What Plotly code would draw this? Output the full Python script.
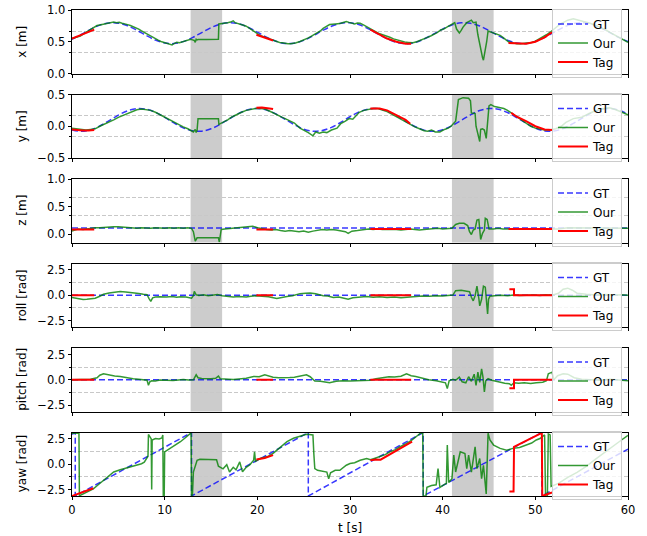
import plotly.graph_objects as go
from plotly.subplots import make_subplots

# ---------------- data ----------------
T_GT = list(range(61))
GT_X = [0.540, 0.616, 0.696, 0.762, 0.797, 0.793, 0.751, 0.681, 0.599, 0.527,
        0.481, 0.471, 0.502, 0.565, 0.644, 0.722, 0.778, 0.800, 0.782, 0.728,
        0.652, 0.572, 0.507, 0.473, 0.478, 0.521, 0.592, 0.673, 0.745, 0.790,
        0.798, 0.767, 0.703, 0.623, 0.547, 0.491, 0.470, 0.489, 0.543, 0.620,
        0.700, 0.765, 0.798, 0.791, 0.748, 0.676, 0.595, 0.524, 0.479, 0.472,
        0.505, 0.569, 0.649, 0.725, 0.780, 0.800, 0.780, 0.725, 0.648, 0.568,
        0.504]
GT_Y = [-0.059, -0.080, -0.057, 0.004, 0.088, 0.175, 0.244, 0.278, 0.269, 0.219,
        0.141, 0.052, -0.025, -0.072, -0.077, -0.040, 0.031, 0.119, 0.202, 0.260,
        0.280, 0.256, 0.194, 0.110, 0.023, -0.045, -0.078, -0.068, -0.018, 0.061,
        0.150, 0.226, 0.272, 0.276, 0.238, 0.166, 0.078, -0.004, -0.061, -0.080,
        -0.055, 0.008, 0.092, 0.179, 0.247, 0.279, 0.267, 0.216, 0.136, 0.048,
        -0.028, -0.073, -0.076, -0.036, 0.036, 0.124, 0.206, 0.263, 0.280, 0.254,
        0.190]
T_GT_CONST = [0, 60]
GT_Z = [0.115, 0.115]
GT_ROLL = [0.0, 0.0]
GT_PITCH = [0.0, 0.0]
T_GT_YAW = [0, 0.35, 0.35, 12.9, 12.9, 25.5, 25.5, 37.9, 37.9, 50.7, 50.7, 60]
GT_YAW = [2.97, 3.14, -3.14, 3.14, -3.14, 3.14, -3.14, 3.14, -3.14, 3.14, -3.14, 1.5]

OUR_X = [(0.0,0.55),(0.3,0.56),(0.6,0.575),(0.9,0.59),(1.2,0.62),(1.5,0.645),(1.8,0.67),(2.1,0.70),
         (2.4,0.72),(2.7,0.755),(3.0,0.765),(3.3,0.775),(3.6,0.785),(3.9,0.79),(4.2,0.80),(4.5,0.81),
         (4.8,0.80),(5.1,0.805),(5.4,0.79),(5.7,0.785),(6.0,0.77),(6.3,0.755),(6.6,0.74),(6.9,0.725),
         (7.2,0.70),(7.5,0.67),(7.8,0.645),(8.1,0.62),(8.4,0.595),(8.7,0.565),(9.0,0.545),(9.3,0.525),
         (9.6,0.505),(9.9,0.49),(10.2,0.48),(10.5,0.465),(10.8,0.45),(11.0,0.47),(11.3,0.49),(11.6,0.485),
         (11.9,0.50),(12.2,0.51),(12.5,0.52),(12.8,0.54),(13.0,0.53),(13.2,0.52),(13.3,0.49),(13.4,0.54),
         (13.5,0.53),(13.6,0.535),(14.5,0.535),(15.8,0.54),(15.85,0.78),(16.2,0.785),(16.5,0.795),
         (16.8,0.80),(17.1,0.81),(17.4,0.83),(17.6,0.80),(17.9,0.79),(18.2,0.775),(18.5,0.76),(18.8,0.745),
         (19.1,0.715),(19.4,0.69),(19.7,0.655),(20.0,0.625),(20.3,0.60),(20.6,0.585),(20.9,0.57),
         (21.2,0.55),(21.5,0.53),(21.8,0.515),(22.1,0.50),(22.4,0.49),(22.7,0.485),(23.0,0.475),
         (23.3,0.47),(23.6,0.47),(23.9,0.475),(24.2,0.485),(24.6,0.505),(24.9,0.52),(25.2,0.535),
         (25.5,0.56),(25.8,0.585),(26.1,0.61),(26.4,0.635),(26.8,0.67),(27.1,0.71),(27.4,0.735),
         (27.8,0.77),(28.1,0.775),(28.4,0.775),(28.7,0.785),(29.0,0.79),(29.3,0.80),(29.6,0.82),
         (29.9,0.805),(30.2,0.79),(30.5,0.78),(30.8,0.795),(31.1,0.79),(31.4,0.77),(31.8,0.735),
         (32.2,0.70),(32.5,0.675),(32.8,0.65),(33.2,0.625),(33.6,0.605),(33.9,0.595),(34.3,0.57),
         (34.7,0.545),(35.1,0.525),(35.5,0.51),(35.9,0.495),(36.3,0.49),(36.8,0.485),(37.2,0.50),
         (37.6,0.52),(37.9,0.54),(38.3,0.565),(38.7,0.59),(39.0,0.61),(39.4,0.645),(39.8,0.685),
         (40.1,0.70),(40.5,0.735),(40.8,0.755),(41.0,0.77),(41.3,0.80),(41.5,0.70),(41.8,0.64),
         (42.0,0.68),(42.2,0.73),(42.6,0.80),(42.9,0.82),(43.1,0.84),(43.3,0.80),(43.5,0.815),
         (43.6,0.81),(43.8,0.61),(44.0,0.45),(44.1,0.36),(44.3,0.25),(44.4,0.21),(44.5,0.28),
         (44.6,0.36),(44.75,0.50),(44.9,0.67),(45.1,0.66),(45.3,0.65),(45.6,0.635),(45.9,0.62),
         (46.2,0.60),(46.5,0.57),(46.8,0.54),(47.1,0.50),(47.4,0.49),(47.7,0.48),(48.0,0.47),
         (48.4,0.47),(48.8,0.475),(49.2,0.48),(49.6,0.49),(50.0,0.51),(50.4,0.54),(50.8,0.57),
         (51.2,0.61),(51.6,0.65),(52.0,0.70),(52.4,0.75),(52.7,0.78),(53.1,0.81),(53.5,0.84),
         (54.1,0.86),(54.5,0.845),(55.0,0.83),(55.5,0.81),(55.9,0.79),(56.4,0.765),(56.8,0.74),
         (57.3,0.71),(57.7,0.68),(58.1,0.645),(58.5,0.61),(58.9,0.575),(59.3,0.545),(59.7,0.515),
         (60.0,0.49)]

OUR_Y = [(0.0,-0.03),(0.5,-0.04),(1.0,-0.05),(1.5,-0.06),(2.0,-0.05),(2.5,-0.04),(3.0,0.0),(3.5,0.03),
         (4.0,0.07),(4.5,0.10),(5.0,0.14),(5.5,0.17),(6.0,0.21),(6.5,0.24),(7.0,0.26),(7.5,0.27),
         (8.0,0.26),(8.5,0.25),(9.0,0.22),(9.5,0.18),(10.0,0.14),(10.5,0.10),(11.0,0.06),(11.5,0.03),
         (12.0,-0.01),(12.5,-0.04),(12.9,-0.07),(13.1,-0.09),(13.3,-0.05),(13.4,-0.10),(13.5,-0.06),
         (13.6,0.12),(14.5,0.12),(15.8,0.12),(15.85,0.03),(16.3,0.06),(16.8,0.10),(17.3,0.15),
         (17.8,0.19),(18.3,0.22),(18.8,0.25),(19.3,0.27),(19.8,0.28),(20.3,0.28),(20.8,0.27),
         (21.3,0.24),(21.8,0.20),(22.2,0.17),(22.7,0.14),(23.0,0.12),(23.5,0.09),(24.0,0.05),
         (24.6,-0.03),(25.0,-0.06),(25.5,-0.10),(26.0,-0.15),(26.3,-0.09),(26.7,-0.11),(27.1,-0.09),
         (27.5,-0.10),(28.0,-0.06),(28.6,-0.03),(29.0,0.04),(29.5,0.08),(29.9,0.12),(30.3,0.11),
         (30.6,0.16),(31.0,0.22),(31.5,0.25),(32.0,0.27),(32.5,0.28),(33.0,0.28),(33.5,0.26),
         (34.0,0.23),(34.5,0.19),(35.0,0.15),(35.5,0.10),(36.0,0.06),(36.5,0.03),(37.0,-0.01),
         (37.5,-0.04),(38.0,-0.07),(38.4,-0.08),(38.8,-0.06),(39.2,-0.09),(39.7,-0.09),(40.2,-0.05),
         (40.6,-0.03),(40.9,0.0),(41.4,0.08),(41.7,0.42),(42.2,0.45),(42.8,0.44),(43.0,0.40),
         (43.1,0.21),(43.5,0.20),(43.6,0.0),(43.8,-0.10),(44.0,-0.24),(44.1,-0.05),(44.3,-0.04),
         (44.5,-0.06),(44.7,-0.19),(45.0,0.32),(45.2,0.34),(45.6,0.31),(46.0,0.30),(46.6,0.28),
         (47.0,0.25),(47.4,0.21),(48.0,0.15),(48.5,0.09),(49.0,0.04),(49.5,0.0),(50.0,-0.03),
         (50.5,-0.05),(51.0,-0.06),(51.6,-0.06),(52.2,-0.04),(52.8,0.0),(53.3,0.06),(54.1,0.12),
         (55.0,0.14),(55.8,0.20),(56.6,0.25),(57.4,0.28),(58.0,0.29),(58.7,0.26),(59.4,0.22),(60.0,0.18)]

OUR_Z = [(0.0,0.06),(0.3,0.08),(0.7,0.10),(1.2,0.09),(1.8,0.11),(2.5,0.12),(3.0,0.12),(3.5,0.13),
         (4.0,0.13),(4.5,0.14),(5.0,0.14),(5.5,0.13),(6.0,0.12),(6.5,0.12),(7.0,0.11),(7.5,0.12),
         (8.0,0.11),(8.5,0.11),(9.0,0.12),(9.5,0.11),(10.0,0.11),(10.5,0.12),(11.0,0.11),(11.5,0.12),
         (12.0,0.11),(12.5,0.12),(12.9,0.11),(13.1,0.05),(13.3,-0.12),(13.5,-0.06),(14.5,-0.06),
         (15.8,-0.06),(15.9,-0.14),(16.1,0.09),(16.5,0.10),(17.0,0.11),(17.5,0.12),(18.0,0.12),
         (18.5,0.14),(19.0,0.14),(19.5,0.15),(20.0,0.12),(20.5,0.10),(21.0,0.09),(21.5,0.08),
         (22.0,0.09),(22.5,0.07),(23.0,0.06),(23.5,0.07),(24.0,0.06),(24.5,0.05),(25.0,0.06),
         (25.5,0.04),(26.0,0.06),(26.5,0.08),(27.0,0.09),(27.5,0.08),(28.0,0.09),(28.5,0.08),
         (29.0,0.06),(29.5,0.05),(29.8,0.02),(30.2,0.06),(30.8,0.07),(31.5,0.09),(32.0,0.10),
         (32.5,0.09),(33.0,0.10),(33.5,0.09),(34.0,0.09),(34.5,0.10),(35.0,0.09),(35.5,0.08),
         (36.0,0.09),(36.5,0.10),(37.0,0.09),(37.5,0.08),(38.0,0.09),(38.5,0.10),(39.0,0.10),
         (39.5,0.11),(40.0,0.10),(40.5,0.11),(41.0,0.11),(41.4,0.18),(41.8,0.20),(42.3,0.20),
         (42.7,0.16),(42.9,0.05),(43.1,0.0),(43.3,0.08),(43.5,0.10),(43.7,0.26),(43.9,0.27),
         (44.1,-0.09),(44.3,0.02),(44.5,0.08),(44.6,0.29),(44.8,0.27),(45.0,0.10),(45.5,0.10),
         (46.0,0.11),(46.5,0.10),(47.0,0.10),(47.5,0.10),(48.0,0.09),(48.5,0.10),(49.0,0.10),
         (49.5,0.09),(50.0,0.10),(50.5,0.10),(51.0,0.09),(51.8,0.10),(52.5,0.10),(53.5,0.12),
         (54.5,0.12),(55.5,0.11),(56.5,0.12),(57.5,0.11),(58.5,0.12),(59.3,0.11),(60.0,0.11)]

OUR_ROLL = [(0.0,-0.23),(0.4,-0.30),(0.8,-0.38),(1.2,-0.42),(1.6,-0.40),(2.0,-0.38),(2.5,-0.30),
            (3.0,-0.10),(3.4,0.10),(4.0,0.22),(4.5,0.30),(5.2,0.36),(5.8,0.32),(6.6,0.26),(7.2,0.18),
            (7.7,0.10),(8.1,0.05),(8.3,-0.30),(8.5,-0.60),(8.7,-0.25),(9.0,-0.18),(9.5,-0.15),
            (10.2,-0.18),(10.8,-0.12),(11.3,-0.20),(11.7,-0.15),(12.3,-0.18),(12.9,-0.30),(13.1,-0.05),
            (13.2,0.38),(13.4,0.05),(13.7,-0.02),(14.2,0.05),(14.7,-0.05),(15.2,0.02),(15.7,0.08),
            (16.2,-0.05),(16.7,-0.10),(17.4,-0.18),(18.0,-0.12),(18.8,-0.18),(19.3,-0.10),(19.9,-0.05),
            (20.5,-0.10),(21.2,-0.15),(22.1,-0.32),(22.6,-0.20),(23.2,-0.12),(23.8,-0.05),(24.6,0.16),
            (25.2,0.20),(25.7,0.23),(26.3,0.15),(27.1,-0.05),(27.6,-0.08),(28.2,-0.22),(28.8,-0.18),
            (29.4,-0.30),(29.8,-0.40),(30.3,-0.25),(31.1,-0.18),(31.8,-0.12),(32.5,-0.20),(33.2,-0.15),
            (34.0,-0.22),(34.8,-0.18),(35.5,-0.25),(36.2,-0.20),(37.0,-0.12),(37.8,-0.08),(38.6,-0.10),
            (39.3,-0.05),(40.0,-0.08),(40.7,-0.05),(41.1,0.02),(41.4,0.45),(42.0,0.50),(42.6,0.40),
            (42.9,0.35),(43.1,-0.20),(43.3,-0.55),(43.5,-0.05),(43.6,0.75),(43.7,0.90),(43.9,-0.30),
            (44.0,-1.05),(44.2,-0.40),(44.4,0.90),(44.6,0.80),(44.75,-1.20),(44.85,-1.85),(44.95,-0.40),
            (45.1,-0.10),(45.6,-0.05),(46.3,0.0),(47.0,-0.05),(47.6,0.02),(48.3,-0.03),(49.0,0.0),
            (49.8,0.03),(50.5,-0.02),(51.2,0.05),(51.8,0.0),(52.5,0.20),(53.0,0.60),(53.5,0.70),
            (54.0,0.50),(54.5,0.20),(55.5,0.10),(56.5,0.03),(57.5,0.08),(58.5,0.02),(59.3,0.05),(60.0,0.0)]

OUR_PITCH = [(0.0,0.0),(0.5,0.02),(1.0,0.0),(1.5,0.03),(2.0,0.05),(2.7,0.20),(3.0,0.45),(3.4,0.59),
             (3.8,0.50),(4.1,0.42),(4.6,0.38),(5.2,0.33),(5.8,0.22),(6.6,0.10),(7.2,0.05),(7.8,0.0),
             (8.1,-0.05),(8.25,-0.55),(8.4,-0.20),(8.6,-0.10),(9.0,-0.12),(9.5,-0.02),(10.0,-0.05),
             (10.9,-0.08),(11.5,-0.02),(12.0,0.02),(12.6,-0.02),(13.1,0.0),(13.4,0.49),(13.6,0.20),
             (14.0,0.12),(14.5,0.08),(15.0,0.10),(15.5,0.15),(15.8,0.36),(16.0,0.10),(16.5,0.05),
             (17.4,0.03),(18.0,0.08),(18.8,0.15),(19.6,0.33),(20.2,0.30),(20.8,0.49),(21.2,0.35),
             (21.7,0.25),(22.3,0.20),(22.8,0.18),(23.5,0.22),(24.0,0.25),(24.6,0.33),(25.0,0.40),
             (25.3,0.49),(25.7,0.30),(26.2,-0.13),(26.8,-0.15),(27.3,-0.25),(27.8,-0.30),(28.5,-0.15),
             (29.2,-0.10),(30.0,-0.12),(30.8,-0.08),(31.5,-0.12),(32.2,-0.05),(32.8,0.10),(33.5,0.20),
             (34.2,0.30),(34.8,0.28),(35.5,0.35),(36.1,0.59),(36.6,0.40),(37.1,0.33),(37.8,0.15),
             (38.5,0.0),(39.3,-0.10),(40.0,-0.20),(40.3,-0.30),(40.5,-0.88),(40.7,-0.10),(41.1,0.05),
             (41.4,-0.05),(41.8,0.25),(42.1,-0.20),(42.5,-0.30),(42.8,0.30),(43.1,-0.15),(43.4,0.55),
             (43.6,-0.55),(43.8,0.75),(44.0,-0.25),(44.2,1.08),(44.35,0.25),(44.5,-1.20),(44.65,-0.10),
             (44.9,0.10),(45.3,-0.05),(45.8,-0.15),(46.2,-0.30),(46.7,-0.35),(47.2,-0.40),(47.4,-0.55),
             (47.7,-0.30),(48.2,-0.35),(48.8,-0.30),(49.5,-0.38),(50.1,-0.30),(50.8,-0.25),(51.2,-0.10),
             (51.4,0.59),(51.8,0.75),(52.0,0.0),(52.4,0.40),(53.0,0.60),(53.5,0.55),(54.2,0.20),
             (55.0,0.05),(56.0,0.0),(57.0,-0.05),(58.0,0.05),(59.0,0.0),(60.0,-0.10)]

OUR_YAW = [(0.0,3.07),(0.3,3.05),(0.75,3.07),(0.8,-3.12),(1.2,-2.95),(1.8,-2.70),(2.3,-2.43),(2.8,-2.05),
           (3.4,-1.60),(4.0,-1.15),(4.5,-0.77),(5.2,-0.55),(5.9,-0.37),(6.4,-0.30),(7.0,-0.10),(7.5,0.05),
           (7.8,0.20),(8.1,0.57),(8.2,0.80),(8.25,2.95),(8.4,2.70),(8.55,2.50),(8.6,-2.50),(8.65,2.40),
           (9.0,2.55),(9.4,2.50),(9.7,2.60),(9.8,2.90),(9.85,-3.14),(9.95,-3.14),(10.0,1.23),(10.3,1.40),
           (10.6,1.57),(11.2,1.90),(11.7,2.23),(12.2,2.60),(12.7,2.97),(12.85,3.10),(12.9,-3.14),
           (13.0,-3.00),(13.1,-0.77),(13.3,-0.10),(13.5,0.40),(13.8,0.50),(14.5,0.50),(15.2,0.52),
           (15.6,0.45),(15.8,-0.20),(16.0,-0.27),(16.3,-0.45),(16.7,-0.05),(17.0,-0.77),(17.4,-0.30),
           (17.7,-0.55),(18.1,0.23),(18.4,-0.75),(18.8,-0.30),(19.2,-0.05),(19.6,0.40),(19.7,1.23),
           (19.8,0.30),(20.3,0.57),(20.8,0.70),(21.2,0.80),(21.7,1.07),(22.2,1.45),(22.7,1.85),
           (23.2,2.23),(23.9,2.57),(24.5,2.75),(25.0,2.85),(25.3,2.97),(25.6,2.95),(26.0,2.90),
           (26.1,1.00),(26.2,-0.43),(26.5,-0.60),(27.0,-0.65),(27.5,-0.77),(27.7,-1.43),(27.9,-0.85),
           (28.4,-0.60),(28.9,-0.60),(29.6,-0.10),(30.0,0.07),(30.5,0.15),(31.1,0.40),(31.8,0.57),
           (32.2,0.45),(32.7,0.60),(33.2,0.73),(33.8,0.95),(34.3,1.23),(34.9,1.45),(35.4,1.73),
           (36.0,2.00),(36.7,2.40),(37.2,2.75),(37.6,3.07),(37.85,3.10),(37.9,-3.14),(38.2,-3.14),
           (38.3,-2.27),(38.8,-2.10),(39.3,-2.03),(39.5,-0.43),(39.7,-2.30),(40.2,-2.00),(40.4,-1.90),
           (40.5,1.90),(40.65,-1.80),(41.0,-1.43),(41.2,0.90),(41.4,-0.77),(41.9,1.23),(42.4,1.07),
           (42.6,-0.43),(42.8,0.90),(43.1,-0.77),(43.5,1.73),(43.7,-0.43),(44.0,0.57),(44.2,-1.43),
           (44.4,-0.10),(44.7,-2.93),(44.9,3.07),(45.1,2.40),(45.5,1.90),(46.2,1.57),(46.9,1.40),
           (47.6,1.57),(48.3,1.65),(49.1,1.90),(49.6,2.10),(50.1,2.40),(50.5,2.55),(51.0,2.90),
           (51.1,-3.14),(51.3,-3.14),(51.4,3.00),(51.6,2.90),(51.7,-2.20),(52.5,-1.90),(53.5,-1.30),
           (54.5,-0.80),(55.5,-0.20),(56.5,0.50),(57.5,1.20),(58.5,1.90),(59.3,2.40),(60.0,2.85)]

TAG_X = [(0.0,0.55),(0.6,0.58),(1.2,0.62),(1.8,0.655),(2.4,0.69),(None,None),
         (19.9,0.61),(20.5,0.58),(21.1,0.55),(21.7,0.52),(None,None),
         (32.2,0.69),(33.0,0.63),(34.0,0.55),(35.0,0.50),(36.0,0.47),(36.6,0.47),(None,None),
         (47.1,0.48),(48.0,0.47),(49.0,0.47),(50.0,0.50),(51.0,0.57),(51.8,0.65)]
TAG_Y = [(0.0,-0.05),(0.6,-0.06),(1.2,-0.065),(1.8,-0.065),(2.4,-0.06),(None,None),
         (19.9,0.29),(20.5,0.295),(21.1,0.285),(21.7,0.27),(None,None),
         (32.2,0.28),(33.2,0.28),(34.0,0.25),(35.0,0.18),(36.0,0.10),(36.5,0.04),(None,None),
         (47.4,0.21),(48.0,0.15),(49.0,0.08),(50.0,0.0),(51.0,-0.05),(51.8,-0.06)]
TAG_Z = [(0.0,0.09),(2.4,0.09),(None,None),(19.9,0.09),(21.7,0.09),(None,None),
         (32.2,0.10),(36.6,0.10),(None,None),(47.1,0.10),(51.8,0.10)]
TAG_ROLL = [(0.0,0.0),(2.4,0.0),(None,None),(19.9,0.0),(21.7,0.0),(None,None),
            (32.2,0.0),(36.6,0.0),(None,None),(47.2,0.59),(47.7,0.59),(47.7,0.0),(51.8,0.0)]
TAG_PITCH = [(0.0,0.0),(2.4,0.0),(None,None),(19.9,0.0),(21.7,0.0),(None,None),
             (32.2,0.0),(36.6,0.0),(None,None),(47.2,-0.85),(47.7,-0.85),(47.7,0.0),(51.8,0.0)]
TAG_YAW = [(0.0,-3.14),(1.0,-2.80),(2.3,-2.37),(None,None),
           (19.9,0.47),(20.8,0.62),(21.7,0.90),(None,None),
           (32.2,0.40),(32.8,0.47),(33.3,0.45),(34.5,1.05),(35.6,1.65),(36.7,2.23),(None,None),
           (47.2,-2.70),(47.65,-2.70),(47.7,1.73),(48.7,2.20),(49.7,2.65),(50.7,3.10),(50.75,-3.14),
           (51.8,-2.80)]

SHADED = [(12.8, 16.2), (41.0, 45.5)]
LABELS = ["x [m]", "y [m]", "z [m]", "roll [rad]", "pitch [rad]", "yaw [rad]"]
PI = 3.14159
Y_RANGES = [[0, 1], [-0.5, 0.5], [-0.145, 1.0], [-PI, PI], [-PI, PI], [-PI, PI]]
Y_TICKS = [[0, 0.5, 1.0], [-0.5, 0, 0.5], [0, 0.5, 1.0], [-2.5, 0, 2.5], [-2.5, 0, 2.5], [-2.5, 0, 2.5]]
Y_MINOR = [[1/3, 2/3], [-1/6, 1/6], [1/3, 2/3], [-1.25, 1.25], [-1.25, 1.25], [-1.25, 1.25]]
X_TICKS = [0, 10, 20, 30, 40, 50, 60]

GT_SERIES = [(T_GT, GT_X, 'spline'), (T_GT, GT_Y, 'spline'), (T_GT_CONST, GT_Z, 'linear'),
             (T_GT_CONST, GT_ROLL, 'linear'), (T_GT_CONST, GT_PITCH, 'linear'),
             (T_GT_YAW, GT_YAW, 'linear')]
OUR_SERIES = [OUR_X, OUR_Y, OUR_Z, OUR_ROLL, OUR_PITCH, OUR_YAW]
TAG_SERIES = [TAG_X, TAG_Y, TAG_Z, TAG_ROLL, TAG_PITCH, TAG_YAW]

# ---------------- figure ----------------
W, H = 647, 536
ML, MR, MT, MB = 72, 19, 10, 40
PH = H - MT - MB
PW = W - ML - MR
GAP = 21
ROWH = (PH - 5 * GAP) / 6

fig = make_subplots(rows=6, cols=1, shared_xaxes=True, vertical_spacing=GAP / PH)

BLUE = 'rgba(0,0,255,0.78)'
GREEN = 'rgba(0,128,0,0.8)'
RED = 'rgb(255,0,0)'
FONT = 'DejaVu Sans'

# shaded intervals (drawn below the traces)
for r in range(1, 7):
    for x0, x1 in SHADED:
        fig.add_shape(type='rect', x0=x0, x1=x1, y0=0, y1=1, xref='x' if r == 1 else f'x{r}',
                      yref='y domain' if r == 1 else f'y{r} domain',
                      fillcolor='#cccccc', line_width=0, layer='below')

for i in range(6):
    leg = 'legend' if i == 0 else f'legend{i+1}'
    tg, vg, shape = GT_SERIES[i]
    fig.add_trace(go.Scatter(x=tg, y=vg, mode='lines', name='GT', legend=leg,
                             line=dict(color=BLUE, width=1.5, dash='6px,3px', shape=shape)),
                  row=i + 1, col=1)
    ours = OUR_SERIES[i]
    fig.add_trace(go.Scatter(x=[p[0] for p in ours], y=[p[1] for p in ours], mode='lines',
                             name='Our', legend=leg, line=dict(color=GREEN, width=1.5)),
                  row=i + 1, col=1)
    tags = TAG_SERIES[i]
    fig.add_trace(go.Scatter(x=[p[0] for p in tags], y=[p[1] for p in tags], mode='lines',
                             name='Tag', legend=leg, connectgaps=False,
                             line=dict(color=RED, width=2)),
                  row=i + 1, col=1)

    top_px = MT + i * (ROWH + GAP)
    y_top = 1 - (top_px - MT) / PH
    y_mid = 1 - (top_px + ROWH / 2 - MT) / PH
    fig.update_layout(**{leg: dict(x=(622 - ML) / PW, xanchor='right',
                                   y=y_top + 1.5 / PH, yanchor='top',
                                   bgcolor='rgba(255,255,255,0.8)', bordercolor='#cccccc',
                                   borderwidth=1, font=dict(family=FONT, size=12, color='black'),
                                   tracegroupgap=0)})
    fig.add_annotation(text=LABELS[i], xref='paper', yref='paper', x=(22 - ML) / PW,
                       y=y_mid, textangle=-90, showarrow=False, xanchor='center', yanchor='middle',
                       font=dict(family=FONT, size=12, color='black'))

    fig.update_yaxes(row=i + 1, col=1, range=Y_RANGES[i], tickmode='array', tickvals=Y_TICKS[i],
                     ticktext=[f"{v:.1f}".replace('-', '\u2212') for v in Y_TICKS[i]],
                     ticks='outside', ticklen=3.5, tickcolor='black', tickwidth=0.8,
                     showline=True, mirror=True, linecolor='black', linewidth=0.8,
                     showgrid=False, zeroline=False, automargin=False,
                     tickfont=dict(family=FONT, size=11.5, color='black'),
                     minor=dict(tickmode='array', tickvals=Y_MINOR[i], ticks='outside', ticklen=2,
                                tickcolor='black', tickwidth=0.6, showgrid=True,
                                gridcolor='#c8c8c8', griddash='4px,2px', gridwidth=0.8))
    fig.update_xaxes(row=i + 1, col=1, range=[0, 60], tickmode='array', tickvals=X_TICKS,
                     ticks='outside', ticklen=3.5, tickcolor='black', tickwidth=0.8,
                     showline=True, mirror=True, linecolor='black', linewidth=0.8,
                     showgrid=False, zeroline=False, automargin=False,
                     tickfont=dict(family=FONT, size=11.5, color='black'))

fig.add_annotation(text='t [s]', xref='paper', yref='paper', x=0.5,
                   y=(H - MB - 528) / PH, showarrow=False, xanchor='center', yanchor='middle',
                   font=dict(family=FONT, size=12, color='black'))

fig.update_layout(width=W, height=H, margin=dict(l=ML, r=MR, t=MT, b=MB, autoexpand=False),
                  plot_bgcolor='white', paper_bgcolor='white',
                  font=dict(family=FONT, size=12, color='black'), showlegend=True)

fig.write_html("out.html", config={'displayModeBar': False},
               post_script="document.body.style.margin='0px';")
